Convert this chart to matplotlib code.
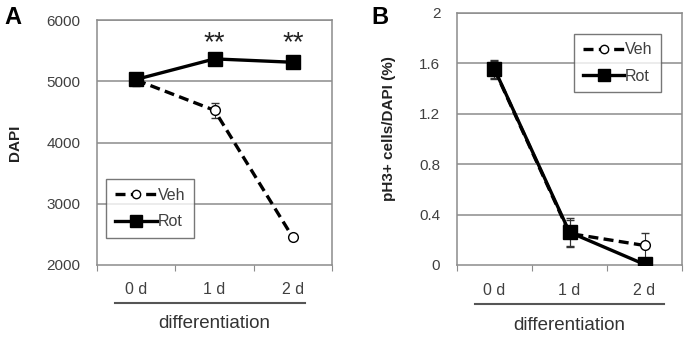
import numpy as np
import matplotlib
matplotlib.use("Agg")
import matplotlib.pyplot as plt
from matplotlib.lines import Line2D

plt.rcParams['font.family'] = ['Liberation Sans', 'DejaVu Sans']

days = ['0 d', '1 d', '2 d']

# panel A: DAPI counts
dapi_veh = [5020, 4525, 2450]
dapi_veh_err = [80, 120, 40]
dapi_rot = [5030, 5365, 5310]
dapi_rot_err = [100, 100, 50]
dapi_ticks = [2000, 3000, 4000, 5000, 6000]
dapi_stars = ['', '**', '**']

# panel B: pH3+ cells / DAPI (%)
ph3_veh = [1.55, 0.25, 0.155]
ph3_veh_err = [0.07, 0.11, 0.10]
ph3_rot = [1.555, 0.26, 0.005]
ph3_rot_err = [0.07, 0.11, 0.0]
ph3_ticks = [0, 0.4, 0.8, 1.2, 1.6, 2]
ph3_ticklabels = ['0', '0.4', '0.8', '1.2', '1.6', '2']

GRAY = '#8c8c8c'
TXT = '#404040'

fig = plt.figure(figsize=(6.93, 3.37), dpi=100)
W, H = 693, 337


def px_axes(l, t, r, b):
    return fig.add_axes([l / W, 1 - b / H, (r - l) / W, (b - t) / H])


def draw_panel(ax, veh, veh_err, rot, rot_err, yticks, ylabels, ylim, ylabel,
               line_end, label_xy):
    x = np.arange(len(days))
    ax.set_xlim(-0.5, 2.5)
    ax.set_ylim(*ylim)
    for yv in yticks[1:]:
        ax.axhline(yv, color=GRAY, lw=1.1, zorder=0)
    ax.errorbar(x, veh, yerr=veh_err, color='black', lw=2.4, ls=(0, (3, 1.6)),
                marker='o', ms=7, mfc='white', mec='black', mew=1.0,
                ecolor='#333333', elinewidth=0.8, capsize=3, zorder=3)
    ax.errorbar(x, rot, yerr=rot_err, color='black', lw=2.4, ls='-',
                marker='s', ms=10, mfc='black', mec='black',
                ecolor='#333333', elinewidth=0.8, capsize=3, zorder=4)
    for s in ['left', 'bottom', 'top', 'right']:
        ax.spines[s].set_color(GRAY)
        ax.spines[s].set_linewidth(1.1)
    ax.set_yticks(yticks)
    ax.set_yticklabels(ylabels)
    ax.tick_params(axis='y', length=0, pad=12, labelsize=11, labelcolor=TXT)
    ax.set_xticks([-0.5, 0.5, 1.5, 2.5])
    ax.set_xticklabels([])
    ax.tick_params(axis='x', length=4, color=GRAY, direction='out')
    xt = ax.get_xaxis_transform()
    for i, d in enumerate(days):
        ax.text(i, -0.1, d, transform=xt, ha='center', va='center',
                fontsize=11.5, color=TXT)
    ax.plot(line_end, [-0.155, -0.155], transform=xt,
            color='#555555', lw=1.5, clip_on=False)
    ax.text(1, -0.24, 'differentiation', transform=xt,
            ha='center', va='center', fontsize=13.5, color='#333333')
    ax.set_ylabel(ylabel, fontsize=11, fontweight='bold', color='#222222')
    ax.yaxis.set_label_coords(*label_xy)


axA = px_axes(97, 20, 332, 265)
draw_panel(axA, dapi_veh, dapi_veh_err, dapi_rot, dapi_rot_err,
           dapi_ticks, [str(t) for t in dapi_ticks], (2000, 6000), 'DAPI',
           [-0.27, 2.16], (-0.318, 0.5))
for i, s in enumerate(dapi_stars):
    if s:
        axA.text(i, 5510, s, ha='center', va='baseline', fontsize=20, color='#222222')

axB = px_axes(457, 13, 682, 265)
draw_panel(axB, ph3_veh, ph3_veh_err, ph3_rot, ph3_rot_err,
           ph3_ticks, ph3_ticklabels, (0, 2), 'pH3+ cells/DAPI (%)',
           [-0.26, 2.26], (-0.27, 0.54))

handles = [Line2D([], [], color='black', lw=2.4, ls=(0, (3, 1.6)), marker='o', ms=6,
                  mfc='white', mec='black'),
           Line2D([], [], color='black', lw=2.4, marker='s', ms=9)]
for ax, loc in [(axA, (0.04, 0.11)), (axB, (0.52, 0.685))]:
    leg = ax.legend(handles, ['Veh', 'Rot'], loc='lower left', bbox_to_anchor=loc,
                    frameon=True, fancybox=False, edgecolor='#555555', fontsize=11.5,
                    handlelength=2.6, handletextpad=0.05, borderpad=0.55, labelspacing=0.7,
                    borderaxespad=0)
    leg.get_frame().set_linewidth(1.0)
    for t in leg.get_texts():
        t.set_color(TXT)

fig.text(4 / W, 1 - 17 / H, 'A', fontsize=17, fontweight='bold', va='center', ha='left')
fig.text(371 / W, 1 - 17 / H, 'B', fontsize=17, fontweight='bold', va='center', ha='left')

fig.savefig('out.png', dpi=100)
